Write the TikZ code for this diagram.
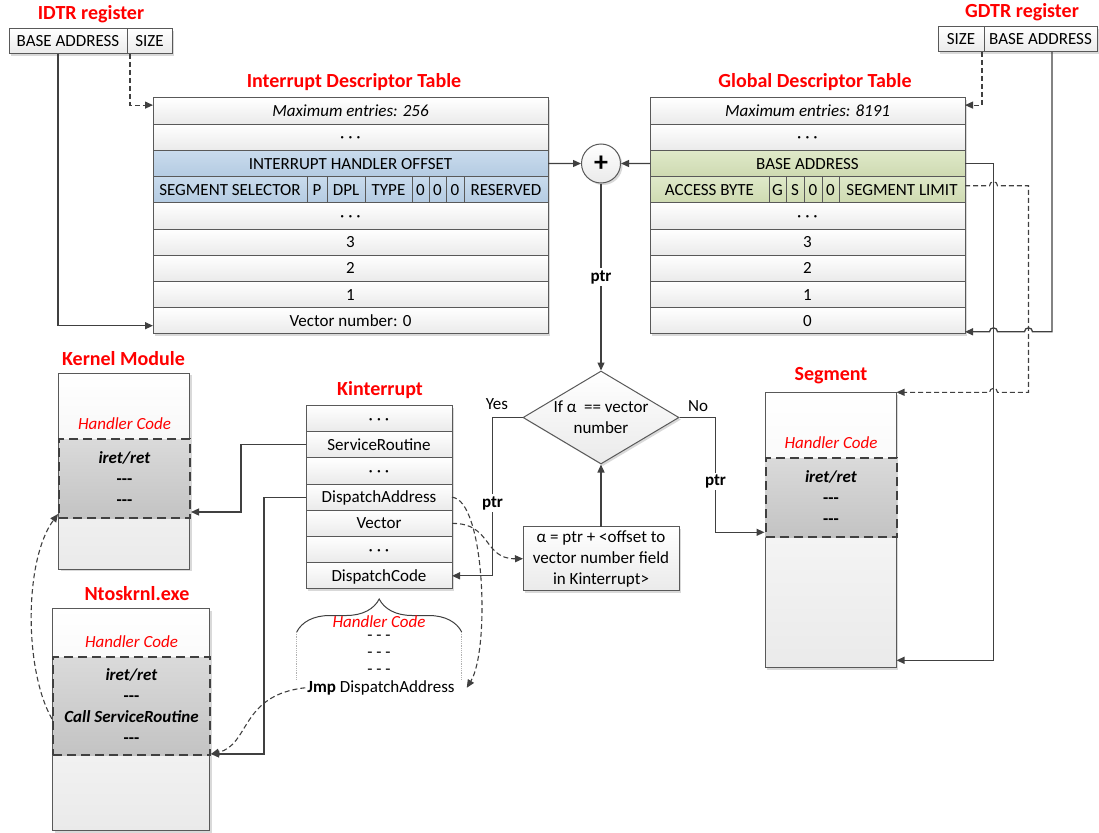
\documentclass[tikz,border=0pt]{standalone}
\usepackage{fontspec}
\setmainfont{Carlito}
\usepackage{tikz}
\usetikzlibrary{arrows.meta,calc,positioning,shapes.geometric,shadows,decorations.pathreplacing}
\definecolor{linegray}{RGB}{64,64,64}
\definecolor{boxedge}{RGB}{89,89,89}
\definecolor{cellbot}{RGB}{234,234,234}
\definecolor{idttop}{RGB}{201,219,237}
\definecolor{idtbot}{RGB}{180,203,226}
\definecolor{gdttop}{RGB}{223,233,201}
\definecolor{gdtbot}{RGB}{206,218,177}
\definecolor{codetop}{RGB}{218,218,218}
\definecolor{codebot}{RGB}{195,195,195}
\definecolor{titlered}{RGB}{255,0,0}
\newcommand{\diagfont}{\fontsize{17}{20}\selectfont}
\newcommand{\headfont}{\fontsize{20}{24}\selectfont\bfseries}
\newcommand{\codelinefont}{\fontsize{17}{21}\selectfont}
\tikzset{
  shadowed/.style={drop shadow={shadow xshift=2pt,shadow yshift=-2pt,opacity=0.25,fill=black!60}},
  cell/.style={draw=boxedge,line width=1pt,top color=white,bottom color=cellbot,
    minimum height=26.2pt,inner sep=0pt,outer sep=0pt,text height=14.5pt,text depth=3.5pt,
    font=\diagfont,shadowed},
  regcell/.style={cell,minimum height=25pt},
  idtcell/.style={cell,top color=idttop,bottom color=idtbot},
  gdtcell/.style={cell,top color=gdttop,bottom color=gdtbot},
  membox/.style={draw=boxedge,line width=1pt,top color=white,bottom color=cellbot,
    inner sep=0pt,anchor=north west,shadowed},
  codebox/.style={draw=linegray,line width=2pt,dash pattern=on 9pt off 5pt,
    top color=codetop,bottom color=codebot,inner sep=0pt,anchor=north west,
    align=center,font=\codelinefont},
  headlbl/.style={font=\headfont,text=titlered,anchor=base},
  hclbl/.style={font=\diagfont\itshape,text=titlered,inner sep=1pt,text height=14.5pt,text depth=3.5pt},
  plainlbl/.style={font=\diagfont,inner sep=1pt},
  ptrlbl/.style={font=\diagfont\bfseries,fill=white,inner sep=2pt},
  decision/.style={diamond,draw=boxedge,line width=1pt,top color=white,bottom color=cellbot,
    minimum width=156pt,minimum height=93pt,inner sep=0pt,shadowed},
  conn/.style={draw=linegray,line width=1.3pt,-{Triangle[length=8pt,width=7pt]}},
  dashconn/.style={conn,line width=1.1pt,dash pattern=on 5pt off 3pt}
}
\newcommand{\tabrow}[6]{%
  \node[#5, minimum width=#4pt, anchor=north west] (#1) at (#2,#3) {#6};%
}
\newcommand{\subcell}[5]{%
  \node[#4, minimum width=#3pt, right=0pt of #2] (#1) {#5};%
}

\begin{document}
\begin{tikzpicture}[x=1pt,y=-1pt]
  \useasboundingbox (0,0) rectangle (1099,832);

  % registers
  \node[headlbl] (idtrtitle) at (91,19.5) {IDTR register};
  \tabrow{idtrbase}{9}{29}{118}{regcell}{BASE ADDRESS}
  \subcell{idtrsize}{idtrbase}{45}{regcell}{SIZE}
  \node[headlbl] (gdtrtitle) at (1022,17.5) {GDTR register};
  \tabrow{gdtrsize}{938}{27}{46}{regcell}{SIZE}
  \subcell{gdtrbase}{gdtrsize}{113}{regcell}{BASE ADDRESS}

  % interrupt descriptor table
  \node[headlbl] (idttitle) at (354,87.3) {Interrupt Descriptor Table};
  \tabrow{idtmax}{153}{98}{395}{cell}{\textit{Maximum entries: 256}}
  \tabrow{idtdotsa}{153}{124.2}{395}{cell}{· · ·}
  \tabrow{idtoff}{153}{150.4}{395}{idtcell}{INTERRUPT HANDLER OFFSET}
  \tabrow{idtsel}{153}{176.6}{154}{idtcell}{SEGMENT SELECTOR}
  \subcell{idtp}{idtsel}{20}{idtcell}{P}
  \subcell{idtdpl}{idtp}{38}{idtcell}{DPL}
  \subcell{idttype}{idtdpl}{47}{idtcell}{TYPE}
  \subcell{idtza}{idttype}{17}{idtcell}{0}
  \subcell{idtzb}{idtza}{17}{idtcell}{0}
  \subcell{idtzc}{idtzb}{18}{idtcell}{0}
  \subcell{idtres}{idtzc}{84}{idtcell}{RESERVED}
  \foreach \nm/\lbl [count=\k from 0] in {idtdotsb/{· · ·},idtthree/3,idttwo/2,idtone/1,idtzero/{Vector number: 0}}
    \tabrow{\nm}{153}{202.8+\k*26.2}{395}{cell}{\lbl};

  % global descriptor table
  \node[headlbl] (gdttitle) at (815,87.3) {Global Descriptor Table};
  \tabrow{gdtmax}{650}{98}{315}{cell}{\textit{Maximum entries: 8191}}
  \tabrow{gdtdotsa}{650}{124.2}{315}{cell}{· · ·}
  \tabrow{gdtbase}{650}{150.4}{315}{gdtcell}{BASE ADDRESS}
  \tabrow{gdtacc}{650}{176.6}{119}{gdtcell}{ACCESS BYTE}
  \subcell{gdtg}{gdtacc}{17}{gdtcell}{G}
  \subcell{gdts}{gdtg}{18}{gdtcell}{S}
  \subcell{gdtza}{gdts}{18}{gdtcell}{0}
  \subcell{gdtzb}{gdtza}{17}{gdtcell}{0}
  \subcell{gdtlim}{gdtzb}{126}{gdtcell}{SEGMENT LIMIT}
  \foreach \nm/\lbl [count=\k from 0] in {gdtdotsb/{· · ·},gdtthree/3,gdttwo/2,gdtone/1,gdtzero/0}
    \tabrow{\nm}{650}{202.8+\k*26.2}{315}{cell}{\lbl};

  \node[circle,draw=boxedge,line width=1pt,top color=white,bottom color=cellbot,
    minimum size=39pt,inner sep=0pt,shadowed,font=\fontsize{28}{28}\selectfont\bfseries] (plus) at (601,163.5) {+};

  % Kinterrupt object
  \node[headlbl] (kititle) at (380,395.7) {Kinterrupt};
  \foreach \nm/\lbl [count=\k from 0] in {kidotsa/{· · ·},kisr/ServiceRoutine,kidotsb/{· · ·},kida/DispatchAddress,kivec/Vector,kidotsc/{· · ·},kicode/DispatchCode}
    \tabrow{\nm}{306}{405.5+\k*26.2}{146}{cell}{\lbl};

  % comparison
  \node[decision] (cond) at (601,417.5) {};
  \node[font=\codelinefont,align=center] (condtxt) at (cond.center) {If α~ == vector\\number};
  \node[cell,align=center,font=\codelinefont,minimum width=156pt,minimum height=64pt,
    text height=,text depth=] (alpha) at (601,558.7) {α = ptr + <offset to\\vector number field\\in Kinterrupt>};
  \node[plainlbl,anchor=base] (yeslbl) at (497,409.5) {Yes};
  \node[plainlbl,anchor=base] (nolbl) at (698,411) {No};

  % kernel module
  \node[headlbl] (kmodtitle) at (123.5,365.7) {Kernel Module};
  \node[membox,minimum width=131pt,minimum height=196pt] (kmod) at (58,372.5) {};
  \node[codebox,minimum width=131pt,minimum height=79pt] (kcode) at (58,438) {\textbf{\textit{iret/ret}}\\\textbf{-{}-{}-}\\\textbf{-{}-{}-}};
  \node[hclbl,above=4pt of kcode] (khc) {Handler Code};

  % ntoskrnl
  \node[headlbl] (ntostitle) at (137,600.7) {Ntoskrnl.exe};
  \node[membox,minimum width=157pt,minimum height=222pt] (ntos) at (52,608) {};
  \node[codebox,minimum width=157pt,minimum height=98pt] (ntcode) at (52,656) {\textbf{\textit{iret/ret}}\\\textbf{-{}-{}-}\\\textbf{\textit{Call ServiceRoutine}}\\\textbf{-{}-{}-}};
  \node[hclbl,above=4pt of ntcode] (nhc) {Handler Code};

  % segment
  \node[headlbl] (segtitle) at (831,380.7) {Segment};
  \node[membox,minimum width=131pt,minimum height=275pt] (segment) at (764.5,392.3) {};
  \node[codebox,minimum width=131pt,minimum height=79pt] (segcode) at (764.5,457.3) {\textbf{\textit{iret/ret}}\\\textbf{-{}-{}-}\\\textbf{-{}-{}-}};
  \node[hclbl,above=4pt of segcode] (shc) {Handler Code};

  % dispatch code handler
  \draw[linegray,line width=1pt,decorate,decoration={brace,amplitude=33pt}] (296.7,632) -- (461.7,632);
  \draw[gray!60,line width=0.8pt,densely dotted] (296.7,632) -- (296.7,680) (461.7,632) -- (461.7,680);
  \node[font=\diagfont\itshape,text=titlered,inner sep=0pt,anchor=base] (bhc) at (379,627.3) {Handler Code};
  \foreach \k in {0,1,2}
    \node[font=\diagfont,inner sep=0pt,anchor=base] (bdash\k) at (379,640+\k*17.3) {- - -};
  \node[plainlbl,anchor=base,inner sep=2pt] (jmp) at (381,692.3) {\textbf{Jmp} DispatchAddress};

  % connectors
  \coordinate (busa) at ($(gdtbase.east)+(28.5,0)$);
  \coordinate (busb) at ($(gdtbase.east)+(63.5,0)$);
  \draw[conn] ([xshift=-10pt]idtrbase.south) |- ([yshift=-5pt]idtzero.west);
  \draw[dashconn] ([xshift=3pt]idtrsize.south west) |- ([yshift=6pt]idtmax.west);
  \draw[dashconn] ([xshift=-2pt]gdtrsize.south east) |- ([yshift=6pt]gdtmax.east);
  \draw[conn] (idtoff.east) -- (plus.west);
  \draw[conn] (gdtbase.east -| gdtmax.west) -- (plus.east);
  \draw[conn] (plus.south) -- node[ptrlbl] {ptr} (cond.north);
  \draw[conn] ([xshift=68pt]gdtrbase.south west) |- ($(busb |- gdtzero.south east)+(4,-2)$)
    arc[start angle=0,end angle=-180,radius=4] -- ($(busa |- gdtzero.south east)+(4,-2)$)
    arc[start angle=0,end angle=-180,radius=4] -- ([yshift=2pt]gdtzero.south east);
  \draw[conn] (gdtbase.east) -- (busa) |- ([yshift=8pt]segment.south east);
  \draw[dashconn] ([yshift=4pt]gdtlim.east) -- ($(busa |- gdtlim.east)+(-4,-4)$)
    arc[start angle=180,end angle=360,radius=4] -- ($(busb |- gdtlim.east)+(0,-4)$)
    |- ($(busa |- segment.north east)+(4,0)$)
    arc[start angle=0,end angle=-180,radius=4] -- (segment.north east);
  \draw[conn] (cond.west) -- ++(-30,0) |- node[ptrlbl,pos=0.27] {ptr} (kicode.east);
  \draw[conn] (cond.east) -- ++(36,0) |- node[ptrlbl,pos=0.28] {ptr} ([yshift=6pt]segcode.south west);
  \draw[conn] (alpha.north) -- (cond.south);
  \draw[conn] (kisr.west) -- ++(-65,0) |- ([yshift=7pt]kcode.south east);
  \draw[conn] (kida.west) -- ++(-42,0) |- ([yshift=2pt]ntcode.south east);
  \draw[dashconn] (kivec.east) .. controls (492,523) and (483,559) .. (alpha.west);
  \draw[dashconn] (kida.east) .. controls (485,500) and (490,650) .. ([xshift=10pt]jmp.east);
  \draw[dashconn] (jmp.west) .. controls (240,695) and (250,745) .. ([yshift=2pt]ntcode.south east);
  \draw[dashconn] ([yshift=-13pt]ntcode.west) .. controls (24,670) and (24,560) .. ([yshift=5pt]kcode.south west);
\end{tikzpicture}
\end{document}
